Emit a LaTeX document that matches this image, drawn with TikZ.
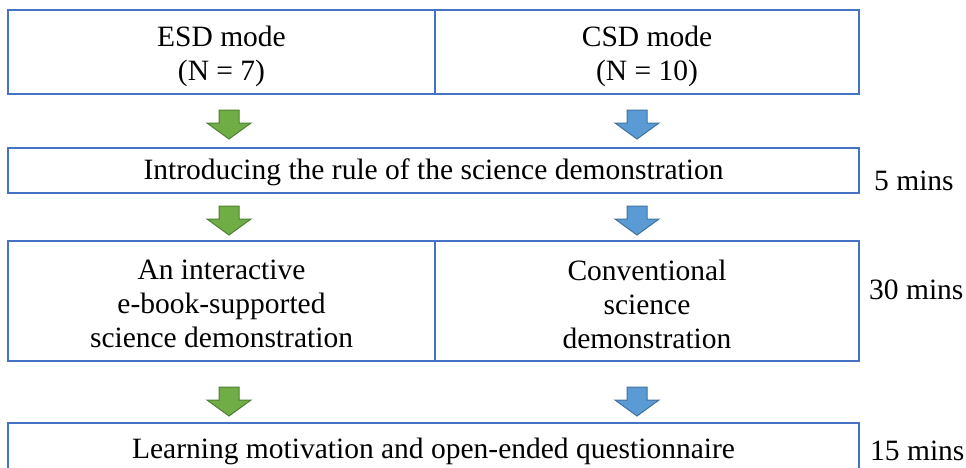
\documentclass[tikz,border=0pt]{standalone}
\usepackage{fontspec}
\setmainfont{Liberation Serif}
\definecolor{boxblue}{HTML}{4472C4}
\definecolor{greenfill}{HTML}{70AD47}
\definecolor{greenline}{HTML}{507E32}
\definecolor{bluefill}{HTML}{5B9BD5}
\definecolor{blueline}{HTML}{41719C}
\tikzset{
  bigtext/.style={font=\fontsize{29.5}{34}\selectfont},
  stagebox/.style={draw=boxblue, line width=1.5pt, inner sep=0pt},
  boxtext/.style={align=center, inner sep=0pt, bigtext},
  timelabel/.style={anchor=west, inner sep=0pt, bigtext},
  greenarrow/.style={fill=greenfill, draw=greenline, line width=1pt},
  bluearrow/.style={fill=bluefill, draw=blueline, line width=1pt},
  pics/downarrow/.style={code={
    \path[#1] (-10,0) -- (10,0) -- (10,13) -- (22,13) -- (0,29) -- (-22,13) -- (-10,13) -- cycle;
  }}
}
\begin{document}
\begin{tikzpicture}[x=1pt, y=-1pt]
\useasboundingbox (0,0) rectangle (966,467);
\clip (0,0) rectangle (966,467);
% group boxes
\node[stagebox, minimum width=427, minimum height=84] (esd) at (221.5,52) {};
\node[stagebox, minimum width=424, minimum height=84] (csd) at (647,52) {};
\node[boxtext] (esdtext) at ([yshift=-4pt]esd.center) {ESD mode\\(N = 7)};
\node[boxtext] (csdtext) at ([yshift=-4pt]csd.center) {CSD mode\\(N = 10)};
% introduction
\node[stagebox, minimum width=851, minimum height=45] (intro) at (433.5,170.5) {};
\node[boxtext] (introtext) at ([yshift=-2pt]intro.center) {Introducing the rule of the science demonstration};
% demonstrations
\node[stagebox, minimum width=427, minimum height=120] (ebook) at (221.5,301) {};
\node[stagebox, minimum width=424, minimum height=120] (conv) at (647,301) {};
\node[boxtext] (ebooktext) at ([yshift=-3pt]ebook.center) {An interactive\\e-book-supported\\science demonstration};
\node[boxtext] (convtext) at ([yshift=-3pt]conv.center) {Conventional\\science\\demonstration};
% questionnaire
\node[stagebox, minimum width=851, minimum height=80] (quest) at (433.5,463) {};
\node[boxtext] (questtext) at (433.5,451) {Learning motivation and open-ended questionnaire};
% durations
\node[timelabel] (t1) at (874,181) {5 mins};
\node[timelabel] (t2) at (869,290) {30 mins};
\node[timelabel] (t3) at (870,451) {15 mins};
% flow arrows
\pic at (229,110) {downarrow=greenarrow};
\pic at (637,110) {downarrow=bluearrow};
\pic at (229,206) {downarrow=greenarrow};
\pic at (637,206) {downarrow=bluearrow};
\pic at (229,387) {downarrow=greenarrow};
\pic at (637,387) {downarrow=bluearrow};
\end{tikzpicture}
\end{document}
